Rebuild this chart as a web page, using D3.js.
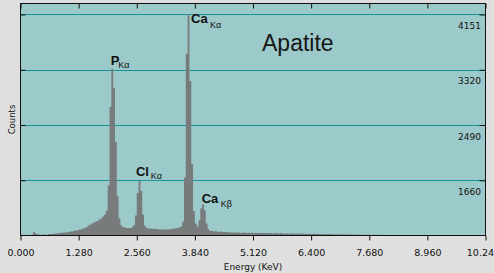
<!DOCTYPE html>
<html><head><meta charset="utf-8">
<script src="https://cdn.jsdelivr.net/npm/d3@7/dist/d3.min.js"></script>
<style>html,body{margin:0;padding:0;background:#dfdfdf;overflow:hidden}</style>
</head><body>
<script>
// ---- data ----
const binWidth = 0.04; // keV per channel (256 channels over 0–10.24 keV)
const counts = [
830,830,830,830,830,830,845,883,860,845,
845,838,845,845,838,852,852,853,860,860,
862,868,867,875,876,874,882,890,891,898,
905,906,920,921,935,943,958,980,995,1010,
1025,1040,1048,1070,1085,1115,1145,1205,1580,2765,
3335,3050,2240,1420,1090,985,958,950,943,942,
943,950,985,1130,1470,1648,1500,1140,975,943,
935,935,928,935,927,928,920,920,921,920,
920,919,928,927,935,936,943,950,965,1040,
1700,3560,4151,3150,1900,1200,1010,965,1060,1240,
1295,1210,1010,925,898,897,890,895,888,885,
890,882,884,878,880,876,875,872,877,870,
874,868,875,871,866,873,869,872,865,870,
868,866,871,864,868,866,863,869,865,862,
866,864,860,866,861,858,863,860,857,862,
858,856,861,857,855,859,856,853,858,855,
852,856,852,855,850,853,849,852,850,847,
851,848,846,850,847,845,849,846,844,847,
845,846,843,845,842,844,841,843,840,842,
839,843,840,838,841,839,837,840,838,836,
839,837,835,838,836,834,837,835,833,836,
834,832,830,833,831,830,834,830,831,830,
833,830,830,832,830,831,830,830,833,830,
830,831,830,830,830,832,830,830,830,831,
830,830,830,830,831,830,830,830,830,830,
830,830,830,830,830,830
];
const xTicks = [0, 1.28, 2.56, 3.84, 5.12, 6.4, 7.68, 8.96, 10.24];
const xTickLabels = ["0.000","1.280","2.560","3.840","5.120","6.400","7.680","8.960","10.24"];
const yTicks = [1660, 2490, 3320, 4151];
const yTickLabels = ["1660","2490","3320","4151"];
const xDomain = [0, 10.24];
const yDomain = [830, 4316];
const peakNames = ["P", "Cl", "Ca", "Ca"];
const peakSubs = ["Kα", "Kα", "Kα", "Kβ"];
const peakLabelEnergy = [1.986, 2.543, 3.755, 3.990];
const peakLabelCount = [3392, 1724, 4028, 1323];
const title = "Apatite";

// ---- chart ----
const W = 494, H = 273;
const svg = d3.select("body").append("svg").attr("width", W).attr("height", H)
  .style("display","block");
svg.append("rect").attr("width", W).attr("height", H).attr("fill", "#dfdfdf");

const x = d3.scaleLinear().domain(xDomain).range([20.5, 485.5]);
const y = d3.scaleLinear().domain(yDomain).range([235.5, 3.5]);

const x0 = x.range()[0], x1 = x.range()[1], yb = y.range()[0], yt = y.range()[1];

svg.append("rect").attr("x", x0).attr("y", yt).attr("width", x1 - x0).attr("height", yb - yt)
  .attr("fill", "#9cc9c9");

// gridlines
svg.append("g").selectAll("line").data(yTicks).join("line")
  .attr("x1", x0).attr("x2", x1)
  .attr("y1", d => Math.round(y(d)) + 0.5).attr("y2", d => Math.round(y(d)) + 0.5)
  .attr("stroke", "#169696").attr("stroke-width", 1);

// spectrum
const pts = counts.map((c, i) => ({e: i * binWidth, c}));
pts.push({e: counts.length * binWidth, c: counts[counts.length - 1]});
const area = d3.area().x(d => x(d.e)).y0(y(yDomain[0])).y1(d => y(d.c)).curve(d3.curveStepAfter);
svg.append("path").datum(pts).attr("d", area).attr("fill", "#777b7b");

// frame
svg.append("rect").attr("x", x0).attr("y", yt).attr("width", x1 - x0).attr("height", yb - yt)
  .attr("fill", "none").attr("stroke", "#111").attr("stroke-width", 1);

// x axis (bottom, outward ticks)
const xAxis = d3.axisBottom(x).tickValues(xTicks).tickSize(5).tickSizeOuter(0)
  .tickFormat((d, i) => xTickLabels[i]);
const gx = svg.append("g").attr("transform", `translate(0,${yb})`).call(xAxis);
gx.select(".domain").remove();
gx.selectAll(".tick line").attr("stroke", "#111");
gx.selectAll(".tick text").attr("y", 20.5).attr("dy", null)
  .attr("font-family", "DejaVu Sans").attr("font-size", 9.5).attr("fill", "#111");
gx.selectAll(".tick text").filter((d, i) => i === xTicks.length - 1)
  .attr("text-anchor", "end").attr("x", 8);

// top ticks (inward)
const gxt = svg.append("g").attr("transform", `translate(0,${yt})`)
  .call(d3.axisBottom(x).tickValues(xTicks).tickSize(5).tickFormat(""));
gxt.select(".domain").remove();
gxt.selectAll(".tick line").attr("stroke", "#111");

// left ticks (inward)
const gyl = svg.append("g").attr("transform", `translate(${x0},0)`)
  .call(d3.axisRight(y).tickValues(yTicks).tickSize(5).tickFormat(""));
gyl.select(".domain").remove();
gyl.selectAll(".tick line").attr("stroke", "#111");

// right ticks (inward) with labels below gridlines
const gyr = svg.append("g").attr("transform", `translate(${x1},0)`)
  .call(d3.axisLeft(y).tickValues(yTicks).tickSize(6).tickFormat((d, i) => yTickLabels[i]));
gyr.select(".domain").remove();
gyr.selectAll(".tick line").attr("stroke", "#111");
gyr.selectAll(".tick text").attr("x", -4.5).attr("y", 14).attr("dy", null)
  .attr("font-family", "DejaVu Sans").attr("font-size", 9).attr("fill", "#111");

// axis titles
svg.append("text").attr("x", (x0 + x1) / 2).attr("y", 269.5).attr("text-anchor", "middle")
  .attr("font-family", "DejaVu Sans").attr("font-size", 9).attr("fill", "#111")
  .text("Energy (KeV)");
svg.append("text").attr("transform", `translate(15,${(yt + yb) / 2}) rotate(-90)`)
  .attr("text-anchor", "middle")
  .attr("font-family", "DejaVu Sans").attr("font-size", 8.5).attr("fill", "#111")
  .text("Counts");

// title
svg.append("text").attr("x", 262).attr("y", 51)
  .attr("font-family", "Liberation Sans").attr("font-size", 23).attr("fill", "#161616")
  .text(title);

// peak labels
const subDx = [-1, 1.7, 2.4, 2.4];
const subDy = [3, 3, 5.3, 4.3];
peakNames.forEach((n, i) => {
  const t = svg.append("text").attr("x", x(peakLabelEnergy[i])).attr("y", y(peakLabelCount[i]))
    .attr("font-family", "Liberation Sans").attr("fill", "#111");
  t.append("tspan").attr("font-size", 13).attr("font-weight", "bold").text(n);
  t.append("tspan").attr("font-size", 9).attr("dx", subDx[i]).attr("dy", subDy[i]).text(peakSubs[i]);
});
</script>
</body></html>
